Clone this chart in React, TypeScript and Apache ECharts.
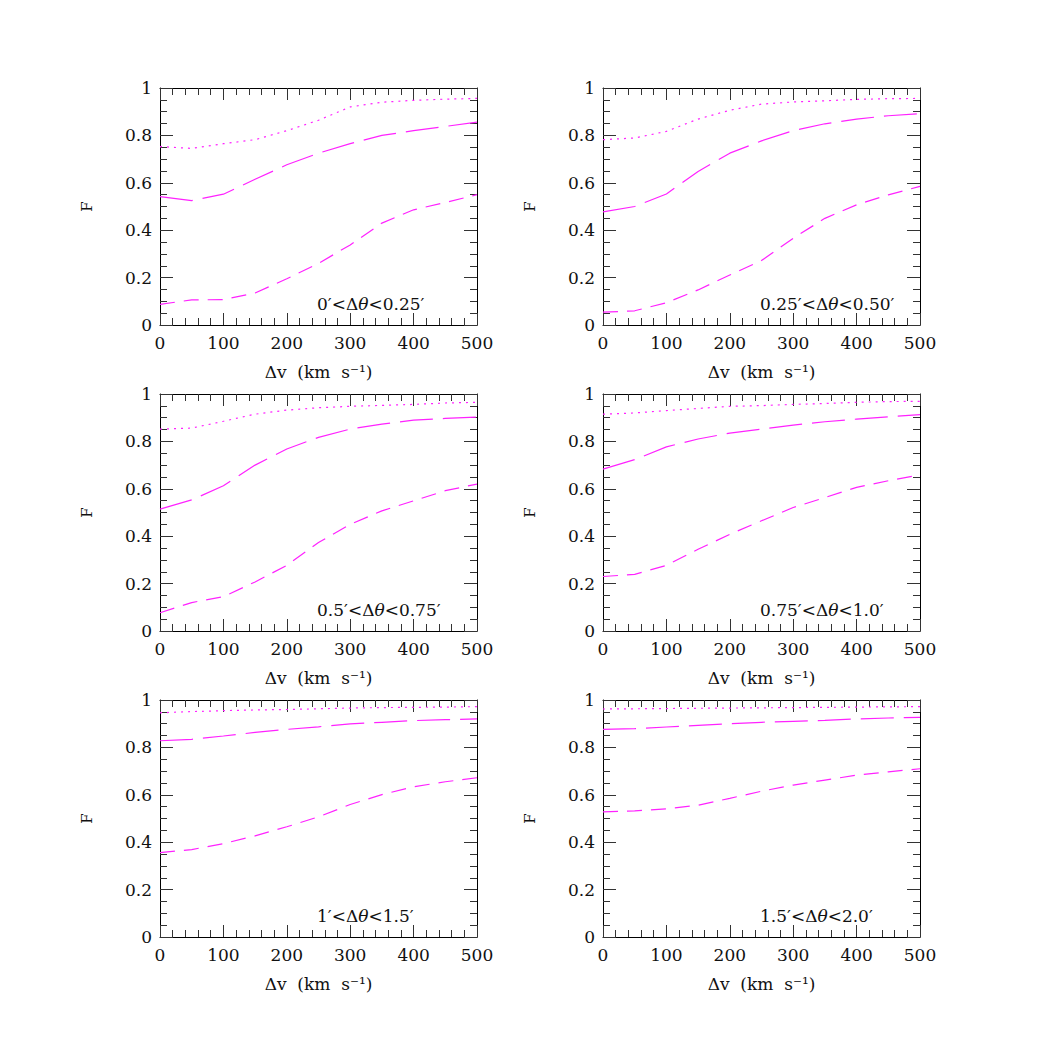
import React, { useEffect, useRef } from 'react';
import * as echarts from 'echarts';

// velocity offsets (km/s)
const dv = [0, 50, 100, 150, 200, 250, 300, 350, 400, 450, 500];

// panel 1: 0' < dtheta < 0.25'
const dotted1 = [0.753, 0.745, 0.765, 0.782, 0.82, 0.864, 0.92, 0.94, 0.948, 0.953, 0.956];
const longDash1 = [0.542, 0.525, 0.552, 0.615, 0.676, 0.725, 0.765, 0.8, 0.82, 0.838, 0.856];
const shortDash1 = [0.087, 0.106, 0.107, 0.135, 0.195, 0.26, 0.338, 0.43, 0.486, 0.517, 0.55];

// panel 2: 0.25' < dtheta < 0.50'
const dotted2 = [0.782, 0.789, 0.817, 0.869, 0.906, 0.932, 0.941, 0.946, 0.952, 0.955, 0.956];
const longDash2 = [0.477, 0.5, 0.553, 0.648, 0.725, 0.777, 0.82, 0.849, 0.869, 0.883, 0.892];
const shortDash2 = [0.054, 0.06, 0.094, 0.148, 0.211, 0.272, 0.366, 0.45, 0.507, 0.549, 0.585];

// panel 3: 0.5' < dtheta < 0.75'
const dotted3 = [0.852, 0.856, 0.885, 0.915, 0.932, 0.942, 0.948, 0.952, 0.956, 0.962, 0.965];
const longDash3 = [0.514, 0.553, 0.613, 0.7, 0.768, 0.817, 0.852, 0.873, 0.89, 0.897, 0.903];
const shortDash3 = [0.077, 0.12, 0.145, 0.207, 0.277, 0.373, 0.45, 0.507, 0.549, 0.592, 0.62];

// panel 4: 0.75' < dtheta < 1.0'
const dotted4 = [0.915, 0.92, 0.93, 0.939, 0.948, 0.951, 0.956, 0.96, 0.965, 0.968, 0.969];
const longDash4 = [0.683, 0.723, 0.777, 0.81, 0.835, 0.852, 0.869, 0.883, 0.894, 0.904, 0.913];
const shortDash4 = [0.23, 0.239, 0.277, 0.345, 0.408, 0.465, 0.521, 0.563, 0.606, 0.634, 0.659];

// panel 5: 1' < dtheta < 1.5'
const dotted5 = [0.946, 0.951, 0.955, 0.958, 0.96, 0.963, 0.966, 0.968, 0.969, 0.97, 0.972];
const longDash5 = [0.828, 0.834, 0.848, 0.863, 0.876, 0.887, 0.899, 0.906, 0.913, 0.917, 0.92];
const shortDash5 = [0.356, 0.369, 0.394, 0.427, 0.465, 0.507, 0.559, 0.601, 0.634, 0.655, 0.672];

// panel 6: 1.5' < dtheta < 2.0'
const dotted6 = [0.962, 0.963, 0.964, 0.965, 0.966, 0.967, 0.968, 0.969, 0.97, 0.971, 0.972];
const longDash6 = [0.876, 0.879, 0.886, 0.893, 0.9, 0.906, 0.91, 0.914, 0.92, 0.924, 0.927];
const shortDash6 = [0.528, 0.532, 0.541, 0.556, 0.585, 0.615, 0.641, 0.662, 0.683, 0.697, 0.71];

const panelLabels = [
  '0′<Δ{i|θ}<0.25′',
  '0.25′<Δ{i|θ}<0.50′',
  '0.5′<Δ{i|θ}<0.75′',
  '0.75′<Δ{i|θ}<1.0′',
  '1′<Δ{i|θ}<1.5′',
  '1.5′<Δ{i|θ}<2.0′',
];

const panels = [
  [dotted1, longDash1, shortDash1],
  [dotted2, longDash2, shortDash2],
  [dotted3, longDash3, shortDash3],
  [dotted4, longDash4, shortDash4],
  [dotted5, longDash5, shortDash5],
  [dotted6, longDash6, shortDash6],
];

const FONT = 'DejaVu Serif';
const MAGENTA = '#ff22ff';
const lineTypes: number[][] = [
  [2, 5],
  [33, 10],
  [15, 9],
];

const colLefts = [160, 603];
const rowTops = [88, 394, 700];
const W = 317;
const H = 237;

const App: React.FC = () => {
  const chartRef = useRef<HTMLDivElement>(null);

  useEffect(() => {
    const chart = echarts.init(chartRef.current!, undefined, { renderer: 'svg' });

    const grids: any[] = [];
    const xAxes: any[] = [];
    const yAxes: any[] = [];
    const series: any[] = [];
    const graphics: any[] = [];

    const axisLine = { show: true, onZero: false, lineStyle: { color: '#000', width: 1 } };
    const tickStyle = { color: '#333', width: 1 };

    panels.forEach((lines, g) => {
      const left = colLefts[g % 2];
      const top = rowTops[Math.floor(g / 2)];
      grids.push({ left, top, width: W, height: H });

      const xBase = {
        type: 'value',
        gridIndex: g,
        min: 0,
        max: 500,
        interval: 100,
        axisLine,
        splitLine: { show: false },
        axisTick: { show: true, inside: true, length: 12, lineStyle: tickStyle },
        minorTick: { show: true, splitNumber: 5, length: 7, lineStyle: tickStyle },
      };
      xAxes.push({
        ...xBase,
        position: 'bottom',
        name: 'Δv\u00a0\u00a0(km\u00a0\u00a0s⁻¹)',
        nameLocation: 'middle',
        nameGap: 38,
        nameTextStyle: { fontFamily: FONT, fontSize: 17, color: '#111' },
        axisLabel: { fontFamily: FONT, fontSize: 17, color: '#111', margin: 9 },
      });
      xAxes.push({ ...xBase, position: 'top', axisLabel: { show: false } });

      const yBase = {
        type: 'value',
        gridIndex: g,
        min: 0,
        max: 1,
        interval: 0.2,
        axisLine,
        splitLine: { show: false },
        axisTick: { show: true, inside: true, length: 13, lineStyle: tickStyle },
        minorTick: { show: true, splitNumber: 4, length: 7, lineStyle: tickStyle },
      };
      yAxes.push({
        ...yBase,
        position: 'left',
        name: 'F',
        nameLocation: 'middle',
        nameGap: 66,
        nameRotate: 90,
        nameTextStyle: { fontFamily: FONT, fontSize: 15, color: '#111' },
        axisLabel: { fontFamily: FONT, fontSize: 17, color: '#111', margin: 8 },
      });
      yAxes.push({ ...yBase, position: 'right', axisLabel: { show: false } });

      lines.forEach((vals, k) => {
        series.push({
          type: 'line',
          xAxisIndex: g * 2,
          yAxisIndex: g * 2,
          data: dv.map((x, i) => [x, vals[i]]),
          symbol: 'none',
          silent: true,
          lineStyle: { color: MAGENTA, width: 1.2, type: lineTypes[k] },
        });
      });

      graphics.push({
        type: 'text',
        x: left + 157,
        y: top + H - 21,
        style: {
          text: panelLabels[g],
          fontFamily: FONT,
          fontSize: 17,
          fill: '#111',
          align: 'left',
          verticalAlign: 'middle',
          rich: {
            i: { fontFamily: FONT, fontSize: 17, fontStyle: 'italic', fill: '#111' },
          },
        },
      });
    });

    chart.setOption({
      animation: false,
      backgroundColor: '#fff',
      grid: grids,
      xAxis: xAxes,
      yAxis: yAxes,
      series,
      graphic: graphics,
    });

    return () => {
      chart.dispose();
    };
  }, []);

  return (
    <div
      ref={chartRef}
      style={{ position: 'absolute', left: 0, top: 0, width: '1038px', height: '1038px' }}
    />
  );
};

export default App;
